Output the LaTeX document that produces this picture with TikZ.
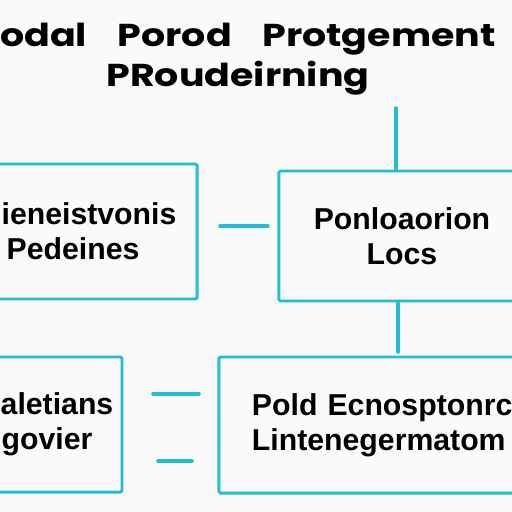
\documentclass[tikz,border=0pt]{standalone}
\usepackage{fontspec}
\setmainfont{Liberation Sans}
\newfontfamily\titlefont[FakeStretch=1.2,WordSpace=3.8]{Poppins}
\usetikzlibrary{positioning}
\definecolor{boxcyan}{HTML}{22BCD4}

\begin{document}
\begin{tikzpicture}[
    x=0.025cm, y=-0.025cm,
    box/.style={draw=boxcyan, line width=2.1pt, rounded corners=1pt, inner sep=0pt, align=center,
      font=\fontsize{21.5}{25}\selectfont\bfseries},
    link/.style={draw=boxcyan, line width=2.5pt, line cap=round},
    heading/.style={font=\titlefont\fontsize{22.5}{27}\selectfont\bfseries}
  ]
  \clip (0,0) rectangle (512,512);
  \fill[black!2] (0,0) rectangle (512,512);
  \node[heading, anchor=base] (t1) at (248,47) {odal Porod Protgement};
  \node[heading, anchor=base] (t2) at (238,87) {PRoudeirning};
  \node[box, minimum width=5.4cm, minimum height=3.375cm] (pede) at (89,231.5)
    {ieneistvonis\\\hspace*{-0.8cm}Pedeines};
  \node[box, minimum width=6.15cm, minimum height=3.25cm] (locs) at (402,236) {Ponloaorion\\Locs};
  \node[box, minimum width=3.25cm, minimum height=3.375cm] (govi) at (57,424.5)
    {aletians\\\hspace*{-0.5cm}govier};
  \node[box, align=left, text width=7.5cm, inner xsep=0.825cm, minimum height=3.4cm] (lint) at (402,425)
    {Pold Ecnosptonrc\\Lintenegermatom};
  \coordinate (top) at (396,108);
  \coordinate (mid) at (398,352);
  \coordinate (d1a) at (220,226);
  \coordinate (d1b) at (268,226);
  \coordinate (d2a) at (153,394);
  \coordinate (d2b) at (199,394);
  \coordinate (d3a) at (158,461);
  \coordinate (d3b) at (192,461);
  \draw[link] (top) -- (top |- locs.north);
  \draw[link] (mid |- locs.south) -- (mid);
  \draw[link] (d1a) -- (d1b);
  \draw[link] (d2a) -- (d2b);
  \draw[link] (d3a) -- (d3b);
\end{tikzpicture}
\end{document}
